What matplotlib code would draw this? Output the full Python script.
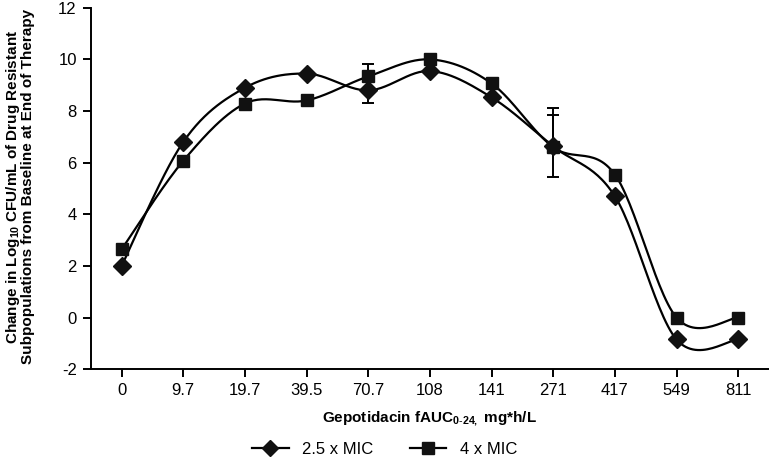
import numpy as np
import matplotlib
matplotlib.use("Agg")
import matplotlib.pyplot as plt

plt.rcParams['font.family'] = ['Liberation Sans', 'DejaVu Sans']
plt.rcParams['mathtext.fontset'] = 'custom'
plt.rcParams['mathtext.rm'] = 'Liberation Sans'
plt.rcParams['mathtext.bf'] = 'Liberation Sans:bold'
plt.rcParams['axes.unicode_minus'] = False

doses = ['0', '9.7', '19.7', '39.5', '70.7', '108', '141', '271', '417', '549', '811']
mic25 = [2.0, 6.8, 8.9, 9.45, 8.8, 9.55, 8.53, 6.63, 4.7, -0.85, -0.85]
mic4 = [2.64, 6.07, 8.29, 8.41, 9.34, 10.0, 9.07, 6.6, 5.54, 0.0, 0.0]
# error bars (lower, upper) at 70.7 and 271
mic25_err_lo = [0, 0, 0, 0, 0.5, 0, 0, 1.2, 0, 0, 0]
mic25_err_hi = [0, 0, 0, 0, 0.5, 0, 0, 1.2, 0, 0, 0]
mic4_err_lo = [0, 0, 0, 0, 0.5, 0, 0, 0, 0, 0, 0]
mic4_err_hi = [0, 0, 0, 0, 0.5, 0, 0, 1.5, 0, 0, 0]


def smooth(x, y, n=30):
    # Catmull-Rom spline through the points (like a smoothed line in a spreadsheet)
    x = np.asarray(x, float)
    y = np.asarray(y, float)
    px = np.concatenate([[x[0]], x, [x[-1]]])
    py = np.concatenate([[y[0]], y, [y[-1]]])
    xs, ys = [], []
    t = np.linspace(0, 1, n)
    for i in range(1, len(px) - 2):
        for p, out in ((px, xs), (py, ys)):
            p0, p1, p2, p3 = p[i - 1], p[i], p[i + 1], p[i + 2]
            out.extend(0.5 * (2 * p1 + (-p0 + p2) * t
                              + (2 * p0 - 5 * p1 + 4 * p2 - p3) * t ** 2
                              + (-p0 + 3 * p1 - 3 * p2 + p3) * t ** 3))
    return np.array(xs), np.array(ys)


fig = plt.figure(figsize=(7.69, 4.58), dpi=100)
ax = fig.add_axes([0.118, 0.194, 0.882, 0.789])

xi = np.arange(len(doses))
for vals, lo, hi, mk, ms, lab in [(mic25, mic25_err_lo, mic25_err_hi, 'D', 9, '2.5 x MIC'),
                                  (mic4, mic4_err_lo, mic4_err_hi, 's', 8.5, '4 x MIC')]:
    sx, sy = smooth(xi, vals)
    ax.plot(sx, sy, color='black', lw=1.6, zorder=2)
    ax.errorbar(xi, vals, yerr=[lo, hi], fmt='none', ecolor='black', elinewidth=1.4,
                capsize=4, capthick=1.4, zorder=3)
    ax.plot(xi, vals, linestyle='none', marker=mk, ms=ms, color='#111111', zorder=4)
    ax.plot([], [], color='black', lw=1.6, marker=mk, ms=ms - 0.5, mfc='#111111',
            mec='#111111', label=lab)

ax.set_xlim(-0.5, 10.5)
ax.set_ylim(-2, 12)
ax.set_xticks(xi)
ax.set_xticklabels(doses)
ax.set_yticks(range(-2, 13, 2))
ax.spines['top'].set_visible(False)
ax.spines['right'].set_visible(False)
ax.spines['left'].set_linewidth(1.4)
ax.spines['bottom'].set_linewidth(1.4)
ax.tick_params(direction='out', length=6, width=1.4, labelsize=12, pad=4)

ax.set_xlabel(r'Gepotidacin fAUC$_{\mathbf{0\text{-}24,}}$ mg*h/L', fontsize=11,
              fontweight='bold', labelpad=8)
ax.set_ylabel('Change in Log$_{\\mathbf{10}}$ CFU/mL of Drug Resistant\n'
              'Subpopulations from Baseline at End of Therapy',
              fontsize=11, fontweight='bold', linespacing=0.95)
ax.yaxis.set_label_coords(-0.082, 0.505)

fig.legend(loc='lower center', bbox_to_anchor=(0.5, -0.03), ncol=2, frameon=False,
           fontsize=12, handlelength=2.2, columnspacing=2.2, handletextpad=0.8)

fig.savefig('out.png', dpi=100)
